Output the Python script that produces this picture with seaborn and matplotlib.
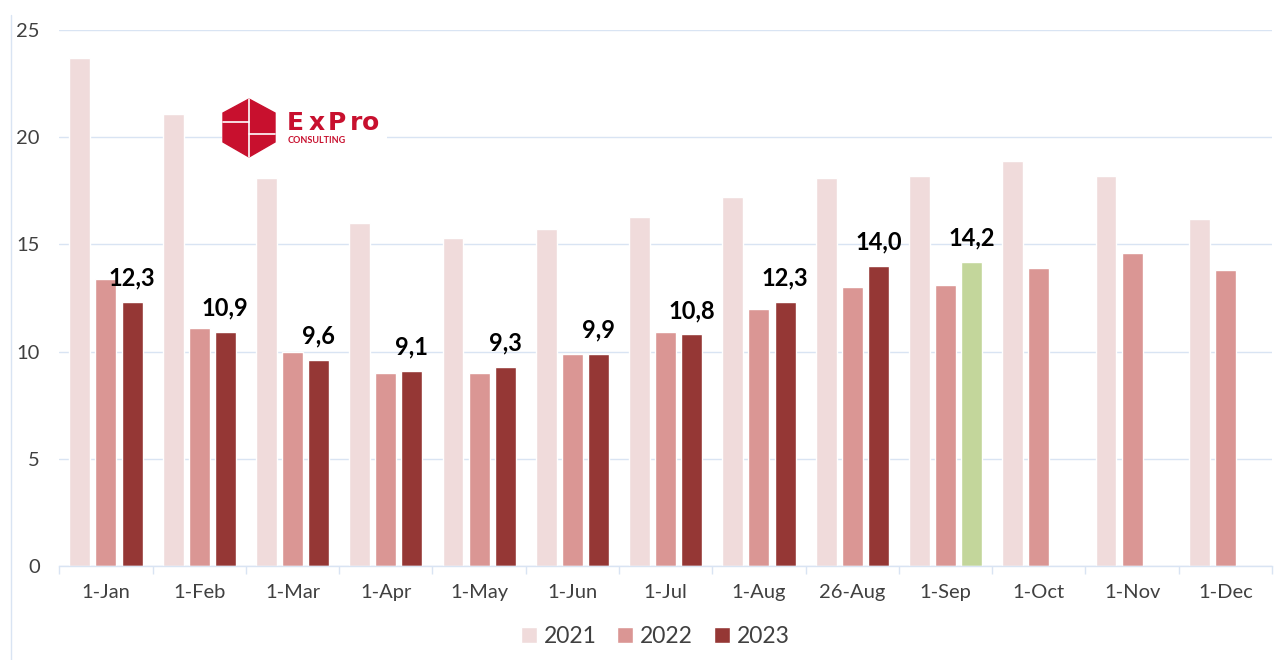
import numpy as np
import pandas as pd
import matplotlib
matplotlib.use("Agg")
import matplotlib.pyplot as plt
import seaborn as sns
from matplotlib.patches import Patch, Polygon
from matplotlib.lines import Line2D

# data
categories = ["1-Jan", "1-Feb", "1-Mar", "1-Apr", "1-May", "1-Jun", "1-Jul",
              "1-Aug", "26-Aug", "1-Sep", "1-Oct", "1-Nov", "1-Dec"]
years = ["2021", "2022", "2023"]
v2021 = [23.7, 21.1, 18.1, 16.0, 15.3, 15.7, 16.3, 17.2, 18.1, 18.2, 18.9, 18.2, 16.2]
v2022 = [13.4, 11.1, 10.0, 9.0, 9.0, 9.9, 10.9, 12.0, 13.0, 13.1, 13.9, 14.6, 13.8]
v2023 = [12.3, 10.9, 9.6, 9.1, 9.3, 9.9, 10.8, 12.3, 14.0, 14.2, np.nan, np.nan, np.nan]
highlight = "1-Sep"
yticks = [0, 5, 10, 15, 20, 25]

colors = {"2021": "#f0dbdb", "2022": "#da9694", "2023": "#953735"}
green = "#c3d69b"
grid_col = "#d9e4f3"
text_col = "#404040"
logo_red = "#c8102e"

df = pd.DataFrame({
    "date": categories * 3,
    "year": [y for y in years for _ in categories],
    "value": v2021 + v2022 + v2023,
}).dropna()

sns.set_theme(style="white")
plt.rcParams["font.family"] = ["Lato", "DejaVu Sans"]

W, H = 1282, 660
fig = plt.figure(figsize=(W / 100, H / 100), dpi=100)
ax = fig.add_axes([59.3 / W, 1 - 566 / H, (1272 - 59.3) / W, (566 - 30) / H])

sns.barplot(data=df, x="date", y="value", hue="year", order=categories,
            hue_order=years, palette=colors, width=0.84, gap=0.2,
            saturation=1, legend=False, ax=ax)

# recolor the highlighted 2023 bar
hi = categories.index(highlight)
c2023 = ax.containers[2]
for b in c2023:
    if round(b.get_x() + b.get_width() / 2) == hi:
        b.set_facecolor(green)

labels = [f"{b.get_height():.1f}".replace(".", ",") for b in c2023]
ax.bar_label(c2023, labels=labels, padding=9, fontsize=17,
             fontweight="bold", color="black")

ax.set_ylim(0, 25)
ax.set_xlim(-0.5, len(categories) - 0.5)
ax.set_yticks(yticks)
ax.yaxis.grid(True, color=grid_col, lw=1)
ax.set_axisbelow(True)
ax.set_xlabel("")
ax.set_ylabel("")
for s in ["top", "right", "left"]:
    ax.spines[s].set_visible(False)
ax.spines["bottom"].set_color(grid_col)
ax.spines["bottom"].set_linewidth(1)
ax.tick_params(axis="x", which="major", length=0, pad=13, labelsize=14.5, labelcolor=text_col)
ax.tick_params(axis="y", length=0, pad=14, labelsize=14.5, labelcolor=text_col)
ax.set_xticks(np.arange(len(categories) + 1) - 0.5, minor=True)
ax.tick_params(axis="x", which="minor", bottom=True, length=6, color=grid_col, width=1)

handles = [Patch(facecolor=colors[y], label=y) for y in years]
fig.legend(handles=handles, loc="center", bbox_to_anchor=(0.511, 0.035), ncol=3,
           frameon=False, fontsize=16.5, handlelength=0.7, handleheight=0.7,
           handletextpad=0.3, columnspacing=0.9, labelcolor=text_col)

# left frame line
fig.add_artist(Line2D([11 / W, 11 / W], [0, 1 - 15 / H], color=grid_col, lw=1))

# logo
lax = fig.add_axes([222 / W, 1 - 160 / H, 165 / W, 63 / H])
lax.set_xlim(222, 387)
lax.set_ylim(160, 97)
lax.set_facecolor("white")
for s in lax.spines.values():
    s.set_visible(False)
lax.set_xticks([])
lax.set_yticks([])
hexv = [(249, 99), (275, 113), (275, 142), (249, 157), (223, 142), (223, 113)]
lax.add_patch(Polygon(hexv, closed=True, color=logo_red))
lax.plot([249, 249], [99, 157], color="white", lw=1.2)
lax.plot([223, 249], [122, 122], color="white", lw=1.2)
lax.plot([249, 275], [134, 134], color="white", lw=1.2)
for ch, x in zip("ExPro", [287, 309, 328, 350, 362]):
    lax.text(x, 130, ch, color=logo_red, fontsize=18, fontweight="bold",
             ha="left", va="baseline", family="DejaVu Sans")
lax.text(288, 143, "CONSULTING", color=logo_red, fontsize=6.5, fontweight="bold",
         ha="left", va="baseline")

plt.savefig("out.png", dpi=100)
